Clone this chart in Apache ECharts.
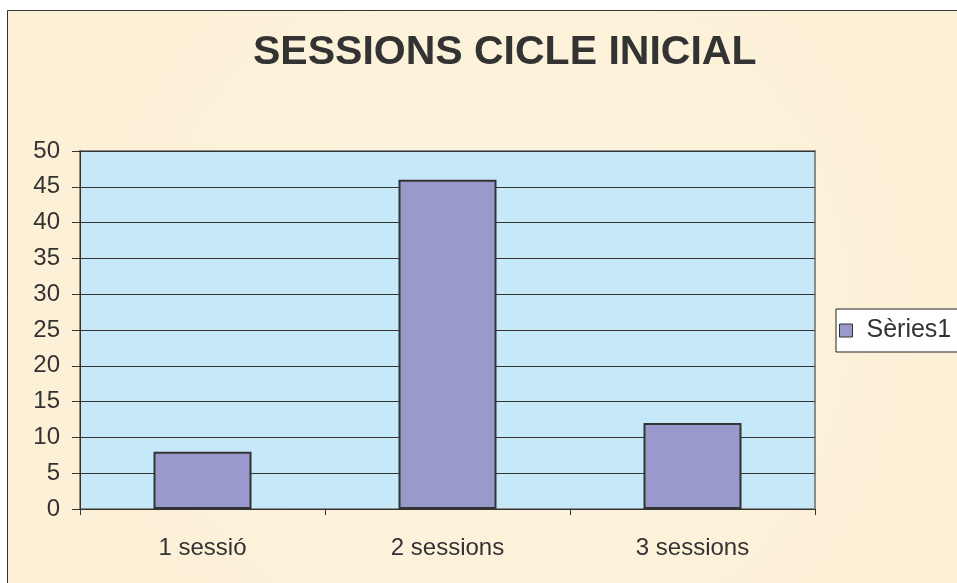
<!DOCTYPE html>
<html>
<head>
<meta charset="utf-8">
<title>Sessions cicle inicial</title>
<script src="https://cdn.jsdelivr.net/npm/echarts@6/dist/echarts.min.js"></script>
<style>
  html, body { margin: 0; padding: 0; background: #fff; }
  #chart { width: 957px; height: 583px; }
</style>
</head>
<body>
<div id="chart"></div>
<script>
// dades del gràfic
const categories = ["1 sessió", "2 sessions", "3 sessions"];
const seriesName = "Sèries1";
const values = [8, 46, 12];
const yTicks = { min: 0, max: 50, interval: 5 };

(function () {
    let myChart = echarts.init(document.getElementById("chart"));
    const font = "'Liberation Sans', Arial, sans-serif";
    let option = {
        backgroundColor: "#fff",
        animation: false,
        // fons de pergamí amb la vora
        graphic: [
            {
                type: "rect",
                z: -10,
                silent: true,
                shape: { x: 7.5, y: 10.5, width: 980, height: 600 },
                style: {
                    fill: new echarts.graphic.RadialGradient(0.5, 0.5, 0.8, [
                        { offset: 0, color: "#fdf5e0" },
                        { offset: 1, color: "#fcf0d6" }
                    ]),
                    stroke: "#333",
                    lineWidth: 1
                }
            }
        ],
        title: {
            text: "SESSIONS CICLE INICIAL",
            left: 253,
            top: 32,
            padding: 0,
            textStyle: {
                fontFamily: font,
                fontSize: 41,
                fontWeight: "bold",
                color: "#333"
            }
        },
        legend: {
            data: [seriesName],
            left: 836,
            top: 309,
            orient: "vertical",
            backgroundColor: "#fff",
            borderColor: "#222",
            borderWidth: 1,
            padding: [9, 20, 9, 3],
            itemWidth: 13,
            itemHeight: 13,
            icon: "rect",
            itemStyle: { borderColor: "#333", borderWidth: 1 },
            textStyle: {
                fontFamily: font,
                fontSize: 25,
                color: "#333",
                padding: [0, 0, 0, 9]
            }
        },
        grid: {
            show: true,
            left: 80,
            right: 142,
            top: 151,
            bottom: 74,
            backgroundColor: "#c5e9f8",
            borderColor: "#8c8c8c",
            borderWidth: 2,
            containLabel: false
        },
        xAxis: {
            type: "category",
            data: categories,
            boundaryGap: true,
            axisLine: { show: true, lineStyle: { color: "#333", width: 1 } },
            axisTick: { show: true, interval: 0, length: 6, lineStyle: { color: "#333" } },
            axisLabel: {
                fontFamily: font,
                fontSize: 24,
                color: "#333",
                margin: 27,
                interval: 0
            },
            splitLine: { show: false }
        },
        yAxis: {
            type: "value",
            min: yTicks.min,
            max: yTicks.max,
            interval: yTicks.interval,
            axisLine: { show: true, lineStyle: { color: "#333", width: 1 } },
            axisTick: { show: true, length: 8, lineStyle: { color: "#333" } },
            axisLabel: {
                fontFamily: font,
                fontSize: 24,
                color: "#333",
                margin: 20
            },
            splitLine: { show: true, lineStyle: { color: "#333", width: 1 } }
        },
        series: [
            {
                name: seriesName,
                type: "bar",
                data: values,
                barWidth: "40%",
                itemStyle: {
                    color: "#9999cc",
                    borderColor: "#333",
                    borderWidth: 2
                }
            }
        ]
    };
    myChart.setOption(option);
})();
</script>
</body>
</html>
